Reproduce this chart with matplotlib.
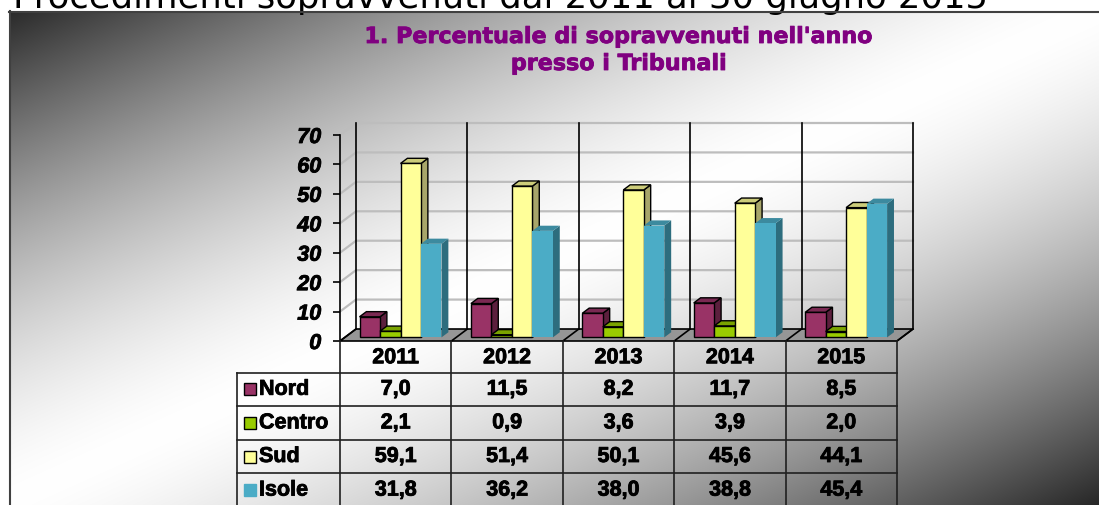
import numpy as np
import matplotlib.pyplot as plt
import matplotlib.patheffects as pe
from matplotlib.patches import Polygon

# ---------------------------
# Data
# ---------------------------
years = ['2011', '2012', '2013', '2014', '2015']
regions = ['Nord', 'Centro', 'Sud', 'Isole']
nord = [7.0, 11.5, 8.2, 11.7, 8.5]
centro = [2.1, 0.9, 3.6, 3.9, 2.0]
sud = [59.1, 51.4, 50.1, 45.6, 44.1]
isole = [31.8, 36.2, 38.0, 38.8, 45.4]
y_ticks = [0, 10, 20, 30, 40, 50, 60, 70]
title_lines = ["1. Percentuale di sopravvenuti nell'anno", "presso i Tribunali"]

series = [nord, centro, sud, isole]
front_col = ['#993366', '#99cc00', '#ffff99', '#4bacc6']
top_col = ['#7a2952', '#7aa300', '#cccc7a', '#3c8a9f']
side_col = ['#5c1f3d', '#5c7a00', '#a8a66a', '#2d6d7e']
edge_col = ['black', 'black', 'black', 'none']

# heavier text, like the Excel rendering
heavy = [pe.withStroke(linewidth=0.6, foreground='black')]

# ---------------------------
# Figure + gradient background
# ---------------------------
W, H = 1099, 505
fig = plt.figure(figsize=(W / 100, H / 100), dpi=100)
plt.rcParams['font.family'] = ['Liberation Sans', 'DejaVu Sans']

bg = fig.add_axes([0, 0, 1, 1])
bg.set_xlim(0, W)
bg.set_ylim(H, 0)
bg.axis('off')
xx, yy = np.meshgrid(np.arange(W) + 0.5, np.arange(H) + 0.5)
t = 0.45 * xx + yy
d = np.clip(np.abs(t - 505) / 495, 0, 1)
g = 1 - 0.85 * d ** 1.5
g[(xx < 9) | (yy < 11)] = 1
bg.imshow(np.dstack([g, g, g]), extent=(0, W, H, 0), aspect='auto',
          interpolation='bilinear')
bg.plot([9, W], [11.5, 11.5], color='#404040', lw=1.5, zorder=2)
bg.plot([9.5, 9.5], [11, H], color='#404040', lw=1.5, zorder=2)
# page heading, clipped at the top edge as in the original slide
bg.text(988, 8, '1. Procedimenti sopravvenuti dal 2011 al 30 giugno 2015',
        ha='right', va='baseline', fontsize=25.5, family='DejaVu Sans',
        color='black', zorder=1)
for j, line in enumerate(title_lines):
    bg.text(619, 37 + 27 * j, line, ha='center', va='center', fontsize=16,
            fontweight='bold', family='DejaVu Sans', color='#800080',
            path_effects=[pe.withStroke(linewidth=0.6, foreground='#800080')])

# ---------------------------
# Pseudo-3D plot area
# ---------------------------
ax = fig.add_axes([340 / W, (H - 341) / H, 557 / W, 206 / H])
ax.set_xlim(0, 5)
ax.set_ylim(0, 70)
ax.patch.set_visible(False)
for s in ['top', 'right', 'bottom']:
    ax.spines[s].set_visible(False)
ax.spines['left'].set_linewidth(1.2)
ax.set_xticks([])
ax.set_yticks(y_ticks)
ax.set_yticklabels([str(v) for v in y_ticks], fontsize=15.5,
                   fontweight='bold', fontstyle='italic')
for lab in ax.get_yticklabels():
    lab.set_path_effects(heavy)
ax.tick_params(axis='y', length=5, width=1.2, pad=8.5)

n = len(years)
DX = 16 / (557 / n)     # depth offset in category units
DY = 12 / (206 / 70)    # depth offset in value units

# floor
ax.add_patch(Polygon([(0, 0), (n, 0), (n + DX, DY), (DX, DY)], closed=True,
                     facecolor='#969696', edgecolor='black', lw=1.2,
                     clip_on=False, zorder=1))
for i in range(n + 1):
    ax.plot([i, i + DX], [0, DY], color='black', lw=1.2, clip_on=False, zorder=1.5)

# gridlines on side and back walls
for v in y_ticks[1:]:
    ax.plot([0, DX, n + DX], [v, v + DY, v + DY], color='#bdbdbd', lw=1.6,
            clip_on=False, zorder=1)
for i in range(n + 1):
    ax.plot([i + DX, i + DX], [DY, 70 + DY], color='black', lw=1.2,
            clip_on=False, zorder=1.2)

# bars
gap = 0.132
bw = (1 - 2 * gap) / len(series)
z0, z1 = 0.3, 0.73
for i in range(n):
    for k, vals in enumerate(series):
        v = vals[i]
        x0 = i + gap + k * bw + z0 * DX
        x1 = x0 + bw
        b = z0 * DY
        ox, oy = (z1 - z0) * DX, (z1 - z0) * DY
        zo = 3 + i * 0.1 + k * 0.01
        ax.add_patch(Polygon([(x1, b), (x1, b + v), (x1 + ox, b + v + oy), (x1 + ox, b + oy)],
                             closed=True, facecolor=side_col[k], edgecolor=edge_col[k],
                             lw=1, clip_on=False, zorder=zo))
        ax.add_patch(Polygon([(x0, b + v), (x1, b + v), (x1 + ox, b + v + oy), (x0 + ox, b + v + oy)],
                             closed=True, facecolor=top_col[k], edgecolor=edge_col[k],
                             lw=1, clip_on=False, zorder=zo))
        ax.bar(x0, v, width=bw, bottom=b, align='edge', color=front_col[k],
               edgecolor=edge_col[k], lw=1, clip_on=False, zorder=zo + 0.005)

# ---------------------------
# Data table
# ---------------------------
tb = fig.add_axes([340 / W, 0, 557 / W, (H - 341) / H])
tb.set_xlim(0, n)
tb.set_ylim(H - 341, 0)
tb.axis('off')
head_h = 31.5
row_h = 33.6
px = 557 / n
left = (237 - 340) / px
rows_bottom = head_h + row_h * len(regions)

for i in range(n + 1):
    tb.plot([i, i], [0, rows_bottom], color='#202020', lw=1.2, clip_on=False)
tb.plot([left, left], [head_h, rows_bottom], color='#202020', lw=1.2, clip_on=False)
for r in range(len(regions) + 1):
    yline = head_h + r * row_h
    tb.plot([left, n], [yline, yline], color='#202020', lw=1.2, clip_on=False)

for i, yr in enumerate(years):
    tb.text(i + 0.5, head_h / 2 + 1, yr, ha='center', va='center',
            fontsize=15.5, fontweight='bold', path_effects=heavy)
for r, (name, vals) in enumerate(zip(regions, series)):
    yc = head_h + (r + 0.5) * row_h
    tb.plot([(250 - 340) / px], [yc], marker='s', ms=8.5,
            mfc=front_col[r], mec=edge_col[r] if edge_col[r] != 'none' else front_col[r],
            mew=1, clip_on=False)
    tb.text((259 - 340) / px, yc, name, ha='left', va='center',
            fontsize=15.5, fontweight='bold', path_effects=heavy, clip_on=False)
    for i, v in enumerate(vals):
        tb.text(i + 0.5, yc, f'{v:.1f}'.replace('.', ','), ha='center',
                va='center', fontsize=15.5, fontweight='bold', path_effects=heavy)

fig.savefig('out.png', dpi=100)
